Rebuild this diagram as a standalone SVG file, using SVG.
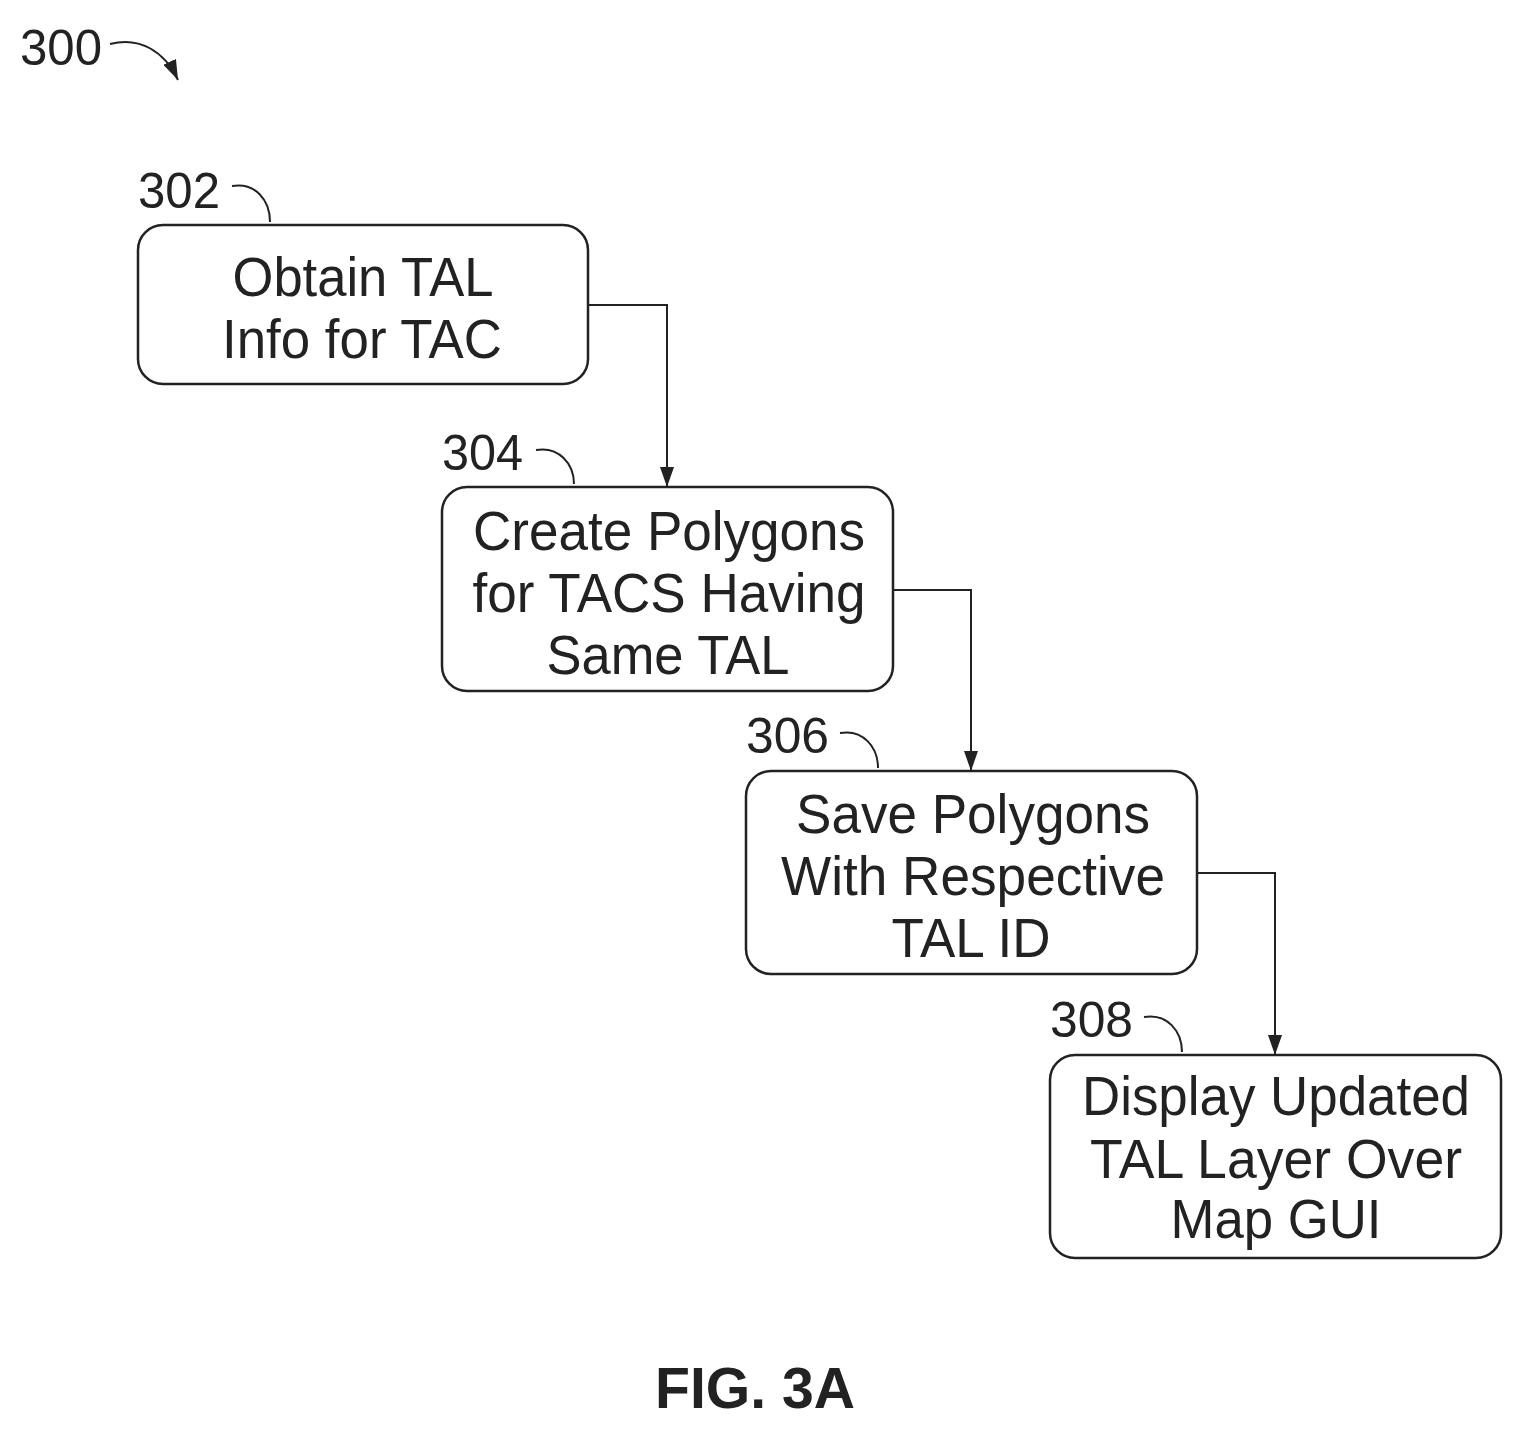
<svg xmlns="http://www.w3.org/2000/svg" width="1524" height="1431" viewBox="0 0 1524 1431">
<style>
.box{fill:#fff;stroke:#222;stroke-width:2.5}
.t{font-family:"Liberation Sans",Arial,sans-serif;font-size:56px;fill:#222;text-anchor:middle}
.n{font-family:"Liberation Sans",Arial,sans-serif;font-size:50px;fill:#222}
.ln{fill:none;stroke:#222;stroke-width:2}
</style>
<defs><marker id="a" markerWidth="12" markerHeight="16" refX="6" refY="16" orient="auto" markerUnits="userSpaceOnUse"><path d="M0,0 L6,16 L12,0 Z" fill="#222" transform="rotate(0)"/></marker>
<marker id="b" viewBox="0 0 20 14" markerWidth="20" markerHeight="14" refX="20" refY="7" orient="auto" markerUnits="userSpaceOnUse"><path d="M0,0 L20,7 L0,14 Z" fill="#222"/></marker></defs>
<g id="label300"><text class="n" x="20" y="65" textLength="82" lengthAdjust="spacingAndGlyphs">300</text>
<path class="ln" d="M110,44 C140,36 165,52 178,80" marker-end="url(#b)"/></g>
<g id="n302"><rect class="box" x="138" y="225" width="450" height="159" rx="25"/>
<text class="t" x="363" y="296" textLength="261" lengthAdjust="spacingAndGlyphs">Obtain TAL</text>
<text class="t" x="362" y="358" textLength="280" lengthAdjust="spacingAndGlyphs">Info for TAC</text>
<text class="n" x="138" y="208" textLength="82" lengthAdjust="spacingAndGlyphs">302</text>
<path class="ln" d="M232,186 C255,182 270,200 270,222"/></g>
<g id="n304"><rect class="box" x="442" y="487" width="451" height="204" rx="25"/>
<text class="t" x="669" y="550" textLength="392" lengthAdjust="spacingAndGlyphs">Create Polygons</text>
<text class="t" x="669" y="612" textLength="393" lengthAdjust="spacingAndGlyphs">for TACS Having</text>
<text class="t" x="668" y="674" textLength="243" lengthAdjust="spacingAndGlyphs">Same TAL</text>
<text class="n" x="442" y="470" textLength="81" lengthAdjust="spacingAndGlyphs">304</text>
<path class="ln" d="M536,450 C559,446 574,464 574,484"/></g>
<g id="n306"><rect class="box" x="746" y="771" width="451" height="203" rx="25"/>
<text class="t" x="973" y="833" textLength="354" lengthAdjust="spacingAndGlyphs">Save Polygons</text>
<text class="t" x="973" y="895" textLength="384" lengthAdjust="spacingAndGlyphs">With Respective</text>
<text class="t" x="971" y="957" textLength="159" lengthAdjust="spacingAndGlyphs">TAL ID</text>
<text class="n" x="746" y="753" textLength="83" lengthAdjust="spacingAndGlyphs">306</text>
<path class="ln" d="M840,733 C863,729 878,747 878,768"/></g>
<g id="n308"><rect class="box" x="1050" y="1055" width="451" height="203" rx="25"/>
<text class="t" x="1276" y="1115" textLength="388" lengthAdjust="spacingAndGlyphs">Display Updated</text>
<text class="t" x="1276" y="1178" textLength="372" lengthAdjust="spacingAndGlyphs">TAL Layer Over</text>
<text class="t" x="1276" y="1238" textLength="211" lengthAdjust="spacingAndGlyphs">Map GUI</text>
<text class="n" x="1050" y="1037" textLength="83" lengthAdjust="spacingAndGlyphs">308</text>
<path class="ln" d="M1144,1017 C1167,1013 1182,1031 1182,1052"/></g>
<g id="connectors">
<path class="ln" d="M588,305 H667 V487" marker-end="url(#b)"/>
<path class="ln" d="M893,590 H971 V771" marker-end="url(#b)"/>
<path class="ln" d="M1197,873 H1275 V1055" marker-end="url(#b)"/>
</g>
<text x="755" y="1408" font-family="Liberation Sans,Arial,sans-serif" font-weight="bold" font-size="58" fill="#222" text-anchor="middle" textLength="200" lengthAdjust="spacingAndGlyphs">FIG. 3A</text>
</svg>
